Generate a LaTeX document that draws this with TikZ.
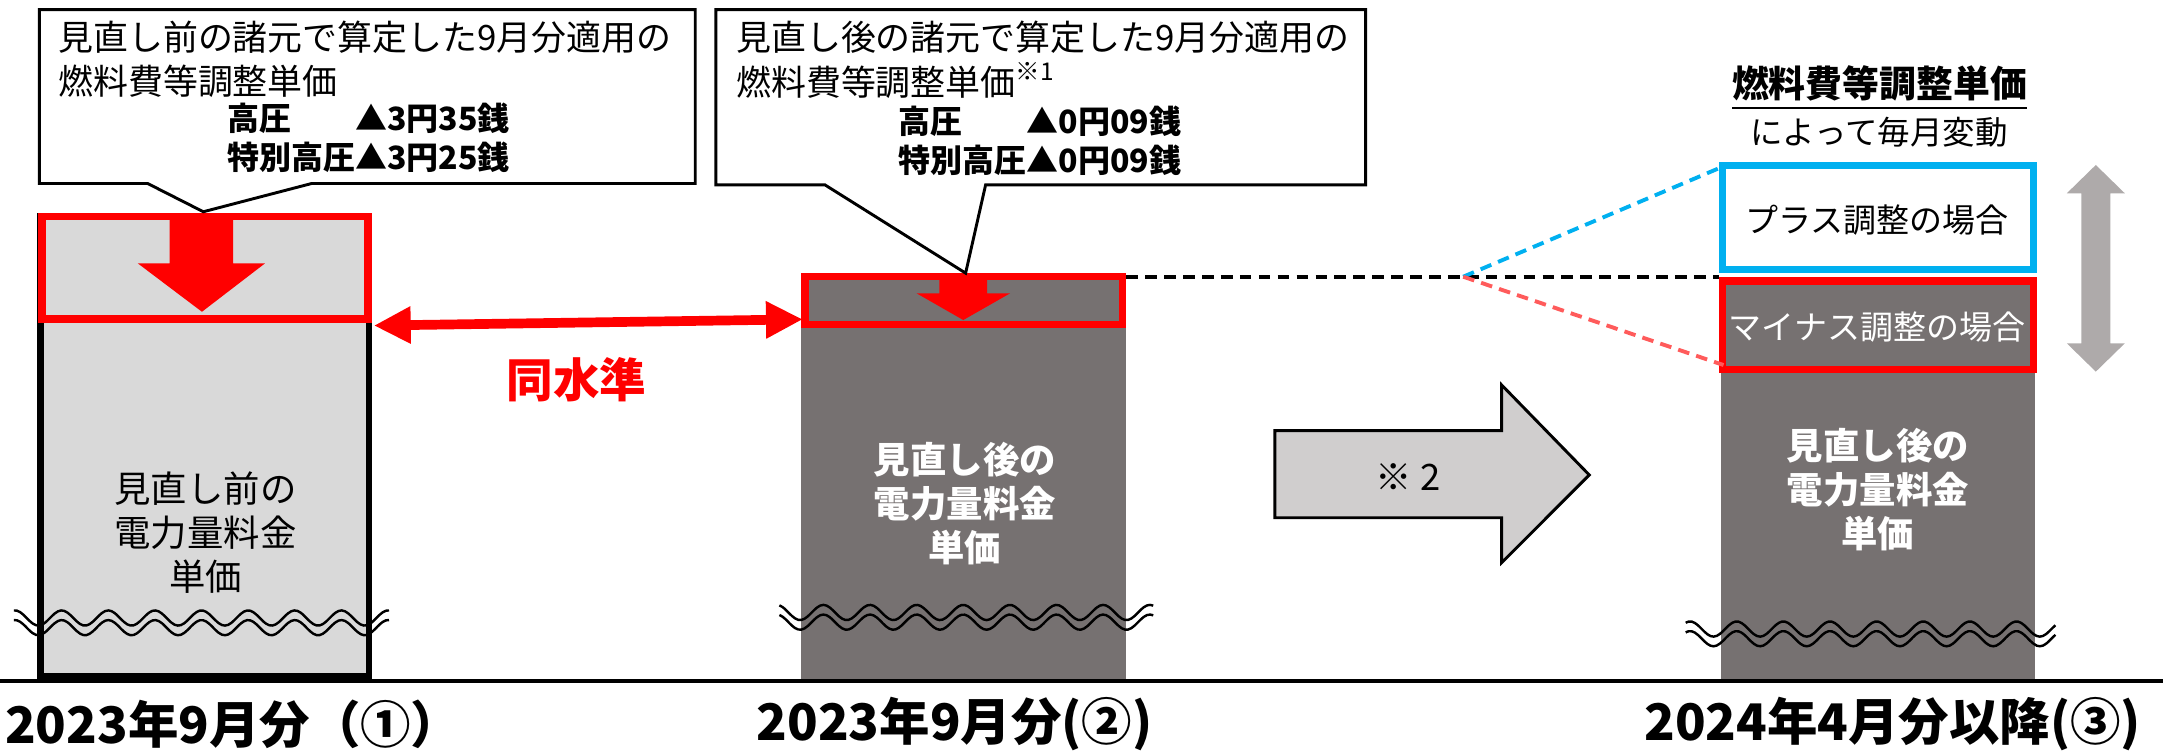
\documentclass[tikz,border=0pt]{standalone}
\usepackage{fontspec}
\setmainfont{Noto Sans CJK JP}
\usetikzlibrary{arrows.meta}
\definecolor{lightbar}{HTML}{D9D9D9}
\definecolor{darkbar}{HTML}{767171}
\definecolor{cuered}{HTML}{FF0000}
\definecolor{plusblue}{HTML}{00B0F0}
\definecolor{minusred}{HTML}{FF5B5B}
\definecolor{swinggray}{HTML}{AEAAAA}
\definecolor{notegray}{HTML}{D0CECE}

\begin{document}
\begin{tikzpicture}[x=0.01cm,y=-0.01cm,
	callout/.style={draw=black,line width=0.6pt,fill=white,line join=miter},
	redframe/.style={draw=cuered,line width=1.6pt},
	calltext/.style={align=left,inner sep=0pt,font=\fontsize{7.2}{9.2}\selectfont},
	callnum/.style={inner sep=0pt,font=\fontsize{6.6}{8}\selectfont\bfseries},
	bartext/.style={align=center,inner sep=0pt,font=\fontsize{7.5}{9}\selectfont},
	labeltext/.style={inner sep=0pt,font=\fontsize{10.4}{12}\selectfont\bfseries},
	guide/.style={line width=0.8pt,dash pattern=on 2.4pt off 1.5pt}]
	\useasboundingbox (0,0) rectangle (1568,544.4);
			\draw[fill=lightbar,line width=1.4pt] (29.5,157) rectangle (267.5,490.5);
			\fill[darkbar] (581,200) rectangle (816,492.5);
			\fill[darkbar] (1247.6,266) rectangle (1475,492.5);
			\draw[line width=0.9pt] (0,493.5) -- (1568,493.5);
			\foreach \xa/\xb/\yc/\xp in {10/282/448/44.7,565/836/444/630.7,1222/1490/456/1259}{
				\foreach \dy in {0,7}{
					\draw[line width=0.5pt] plot[domain=\xa:\xb,samples=120,smooth] (\x,{\yc+\dy-5.5*cos(10.651*(\x-\xp))});
				}
			}
			\draw[redframe] (30.5,157) rectangle (267,231.5);
			\fill[cuered] (123,159) -- (169,159) -- (169,191) -- (192,191) -- (146.4,226) -- (100,191) -- (123,191) -- cycle;
			\draw[redframe] (583.8,200.4) rectangle (813.7,235.2);
			\fill[cuered] (681,202) -- (715.5,202) -- (715.5,212.6) -- (732.3,212.6) -- (698.3,232) -- (664.4,212.6) -- (681,212.6) -- cycle;
			\draw[draw=plusblue,line width=1.6pt,fill=white] (1248.7,120) rectangle (1474.2,195.3);
			\draw[redframe,fill=darkbar] (1248.7,203.8) rectangle (1474.2,267.8);
			\draw[callout] (28.5,7) -- (504,7) -- (504,133) -- (226,133) -- (147.4,153.5) -- (107,133) -- (28.5,133) -- cycle;
			\draw[callout] (519,7) -- (990,7) -- (990,134) -- (714.5,134) -- (700,198) -- (598,134) -- (519,134) -- cycle;
			\node[calltext,anchor=west] (c1head) at (41.6,43) {見直し前の諸元で算定した9月分適用の\\燃料費等調整単価};
			\node[callnum] (c1num) at (267,103) {\begin{tabular}{@{}l@{}l@{}}高圧&▲3円35銭\\特別高圧&▲3円25銭\end{tabular}};
			\node[calltext,anchor=west] (c2head) at (533,43.5) {見直し後の諸元で算定した9月分適用の\\燃料費等調整単価\textsuperscript{※1}};
			\node[callnum] (c2num) at (754,105) {\begin{tabular}{@{}l@{}l@{}}高圧&▲0円09銭\\特別高圧&▲0円09銭\end{tabular}};
			\node[bartext] (b1txt) at (149,386) {見直し前の\\電力量料金\\単価};
			\node[bartext,text=white,font=\fontsize{7.5}{9}\selectfont\bfseries] (b2txt) at (699.5,365) {見直し後の\\電力量料金\\単価};
			\node[bartext,text=white,font=\fontsize{7.5}{9}\selectfont\bfseries] (b3txt) at (1361.3,355) {見直し後の\\電力量料金\\単価};
			\coordinate (b1edge) at (271,236);
			\coordinate (b2edge) at (582,231.5);
			\draw[cuered,line width=2pt,{Triangle[length=7.6pt,width=7.2pt]}-{Triangle[length=7.6pt,width=7.2pt]}] (b1edge) -- (b2edge);
			\node[text=cuered,inner sep=0pt,font=\fontsize{9.6}{11}\selectfont\bfseries] (same) at (418,275.5) {同水準};
			\coordinate (b2top) at (816.5,200.6);
			\coordinate (fork) at (1060.7,200.6);
			\coordinate (b3top) at (1246,200.6);
			\coordinate (plusc) at (1246,122);
			\coordinate (minusc) at (1249.4,264.6);
			\draw[guide] (b2top) -- (b3top);
			\draw[guide,plusblue] (fork) -- (plusc);
			\draw[guide,minusred] (fork) -- (minusc);
			\node[inner sep=0pt,font=\fontsize{7.6}{9}\selectfont\bfseries] (fchead) at (1362.5,64) {\underline{燃料費等調整単価}};
			\node[inner sep=0pt,font=\fontsize{6.7}{8}\selectfont] (fcsub) at (1362,95.5) {によって毎月変動};
			\node[inner sep=0pt,font=\fontsize{6.8}{8}\selectfont] (plus) at (1360.6,159.5) {プラス調整の場合};
			\node[inner sep=0pt,text=white,font=\fontsize{6.8}{8}\selectfont] (minus) at (1360.6,236.8) {マイナス調整の場合};
			\fill[swinggray] (1519.3,119.6) -- (1540.3,140.1) -- (1529.8,140.1) -- (1529.8,248.9) -- (1540.3,248.9) -- (1519.3,269.4) -- (1498.3,248.9) -- (1508.8,248.9) -- (1508.8,140.1) -- (1498.3,140.1) -- cycle;
			\draw[fill=notegray,line width=0.6pt] (924.2,312.2) -- (1088.6,312.2) -- (1088.6,279.1) -- (1152.1,344.3) -- (1088.6,407.9) -- (1088.6,375.3) -- (924.2,375.3) -- cycle;
			\node[inner sep=0pt,font=\fontsize{7.5}{9}\selectfont] (note2) at (1020.9,345.5) {※ 2};
			\node[labeltext,anchor=west] (lab1) at (3,525) {2023年9月分（①）};
			\node[labeltext] (lab2) at (692,525) {2023年9月分(②)};
			\node[labeltext] (lab3) at (1372,525) {2024年4月分以降(③)};
		\end{tikzpicture}
\end{document}
